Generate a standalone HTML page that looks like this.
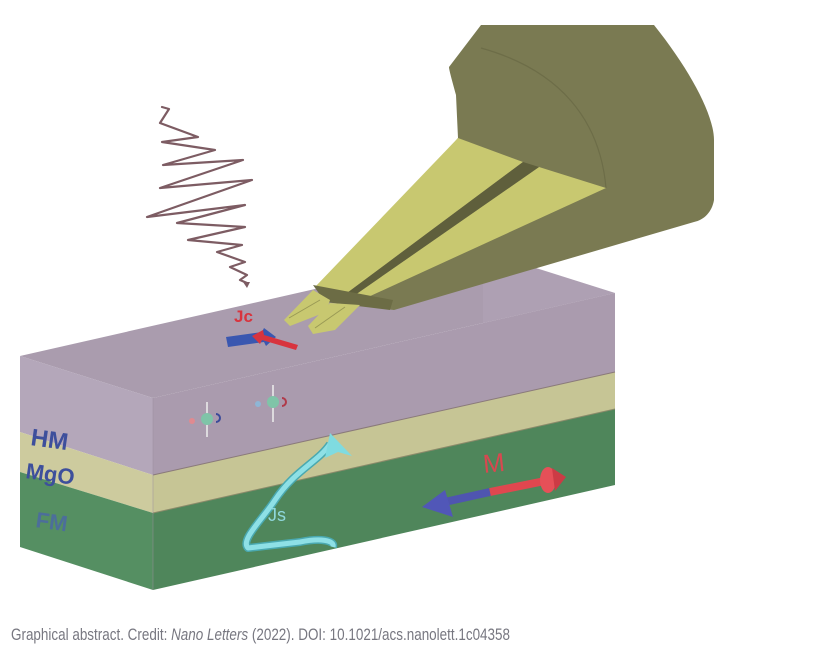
<!DOCTYPE html>
<html><head><meta charset="utf-8"><style>
html,body{margin:0;padding:0;background:#fff;width:816px;height:659px;overflow:hidden}
svg{display:block}
</style></head><body>
<svg width="816" height="659" viewBox="0 0 816 659" xmlns="http://www.w3.org/2000/svg">
<rect width="816" height="659" fill="#fff"/>
<!-- box: top face -->
<polygon points="20,356 153,398 615,293 482,251" fill="#aa9cae"/>
<polygon points="483,251 615,293 615,372 483,330" fill="#b7aabc" opacity="0.35"/>
<!-- left face -->
<polygon points="20,356 153,398 153,475 20,432" fill="#b4a7ba"/>
<polygon points="20,432 153,475 153,513 20,472" fill="#cdcb9e"/>
<polygon points="20,472 153,513 153,590 20,547" fill="#558f62"/>
<!-- long face -->
<polygon points="153,398 615,293 615,372 153,475" fill="#aa9bae"/>
<polygon points="153,475 615,372 615,409 153,513" fill="#c6c595"/>
<polygon points="153,513 615,409 615,485 153,590" fill="#4f865b"/>
<line x1="153" y1="475" x2="615" y2="372" stroke="#8a7a7a" stroke-width="1"/>
<line x1="153" y1="513" x2="615" y2="409" stroke="#8b8a6a" stroke-width="1"/>
<line x1="153" y1="398" x2="153" y2="590" stroke="#9a8e9e" stroke-width="0.8" opacity="0.6"/>
<!-- labels -->
<text x="30" y="445" font-family="Liberation Sans, sans-serif" font-weight="bold" font-size="24" fill="#3d4f9c" transform="rotate(8 30 445)">HM</text>
<text x="25" y="478" font-family="Liberation Sans, sans-serif" font-weight="bold" font-size="22" fill="#3d4f9c" transform="rotate(8 25 478)">MgO</text>
<text x="35" y="527" font-family="Liberation Sans, sans-serif" font-weight="bold" font-size="22" fill="#4a66a8" opacity="0.8" transform="rotate(8 35 527)">FM</text>
<!-- spin particles -->
<g stroke="#eee" stroke-width="1.5">
<line x1="207" y1="402" x2="207" y2="437"/><line x1="273" y1="385" x2="273" y2="422"/>
</g>
<circle cx="192" cy="421" r="3" fill="#e08a90"/>
<circle cx="207" cy="419" r="6" fill="#7fc4a8"/>
<path d="M216 414 a4 4 0 0 1 0 8" stroke="#3b4a99" stroke-width="2" fill="none"/>
<circle cx="258" cy="404" r="3" fill="#8eb6d6"/>
<circle cx="273" cy="402" r="6" fill="#7fc4a8"/>
<path d="M282 398 a4 4 0 0 1 0 8" stroke="#b03a4a" stroke-width="2" fill="none"/>
<!-- Js arrow -->
<path d="M333 547 C335 540 320 538 300 542 L248 548 C240 540 262 520 275 500 C295 470 318 462 330 444" stroke="#4aa9b0" stroke-width="8" fill="none" stroke-linejoin="round"/>
<path d="M333 547 C335 540 320 538 300 542 L248 548 C240 540 262 520 275 500 C295 470 318 462 330 444" stroke="#8ee0e6" stroke-width="5" fill="none" stroke-linejoin="round"/>
<polygon points="330,433 352,456 338,452 325,458" fill="#7fdbe0"/>
<text x="268" y="521" font-family="Liberation Sans, sans-serif" font-size="18" fill="#8fd8dc">Js</text>
<!-- M arrow -->
<line x1="440" y1="503" x2="490" y2="492" stroke="#4f55b0" stroke-width="8"/>
<line x1="490" y1="492" x2="545" y2="481" stroke="#e0474f" stroke-width="8"/>
<polygon points="422,507 445,490 453,517" fill="#5157b8"/>
<ellipse cx="548" cy="480" rx="8" ry="13" fill="#e65058"/>
<polygon points="552,468 566,477 555,491" fill="#cc3b45"/>
<text x="484" y="473" font-family="Liberation Sans, sans-serif" font-size="26" fill="#d84850" transform="rotate(-6 484 473)">M</text>
<!-- Jc -->
<text x="234" y="322" font-family="Liberation Sans, sans-serif" font-weight="bold" font-size="17" fill="#d8343e">Jc</text>
<polygon points="226,337 262,332 264,328 276,337 266,346 264,342 228,347" fill="#3a57b0"/>
<polygon points="298,345 264,335 263,330 252,336 260,344 262,340 296,350" fill="#d8343e"/>
<!-- wave -->
<polyline points="162,107 169,109 160,123 198,137 162,142 215,150 163,165 243,160 160,188 252,180 147,217 245,205 177,223 245,227 188,240 242,245 217,252 245,262 230,267 247,275 240,280 247,283" fill="none" stroke="#7d5c63" stroke-width="2.2" stroke-linejoin="round" stroke-linecap="round"/>
<polygon points="243,282 250,282 247,288" fill="#7d5c63"/>
<!-- probe cone -->
<path d="M481 25 L654 25 C690 70 714 115 714 140 L714 200 C712 212 704 220 694 222 L394 310 L315 300 L458 138 L456 95 C452 80 449 70 449 67 Z" fill="#7a7a52"/>
<path d="M481 48 C560 70 600 120 606 188" stroke="#6d6d48" stroke-width="1.2" fill="none"/>
<!-- plates -->
<polygon points="458,138 523,162 347,293 315,287" fill="#c8c870"/>
<polygon points="539,167 606,188 366,298 355,295" fill="#c8c870"/>
<polygon points="523,162 539,167 355,295 347,293" fill="#5f5f3c"/>
<!-- crossbar & tips -->
<polygon points="313,285 393,300 390,310 325,302" fill="#6c6c45"/>
<polygon points="313,290 330,300 326,312 290,326 284,320" fill="#c8c870"/>
<polygon points="330,303 360,305 335,330 313,334 308,326" fill="#c8c870"/>
<line x1="289" y1="318" x2="320" y2="300" stroke="#9a9a55" stroke-width="1"/>
<line x1="315" y1="328" x2="345" y2="307" stroke="#9a9a55" stroke-width="1"/>
<!-- caption -->
<text x="11" y="640" font-family="Liberation Sans, sans-serif" font-size="17" fill="#777780" textLength="499" lengthAdjust="spacingAndGlyphs">Graphical abstract. Credit: <tspan font-style="italic">Nano Letters</tspan> (2022). DOI: 10.1021/acs.nanolett.1c04358</text>
</svg>
</body></html>
